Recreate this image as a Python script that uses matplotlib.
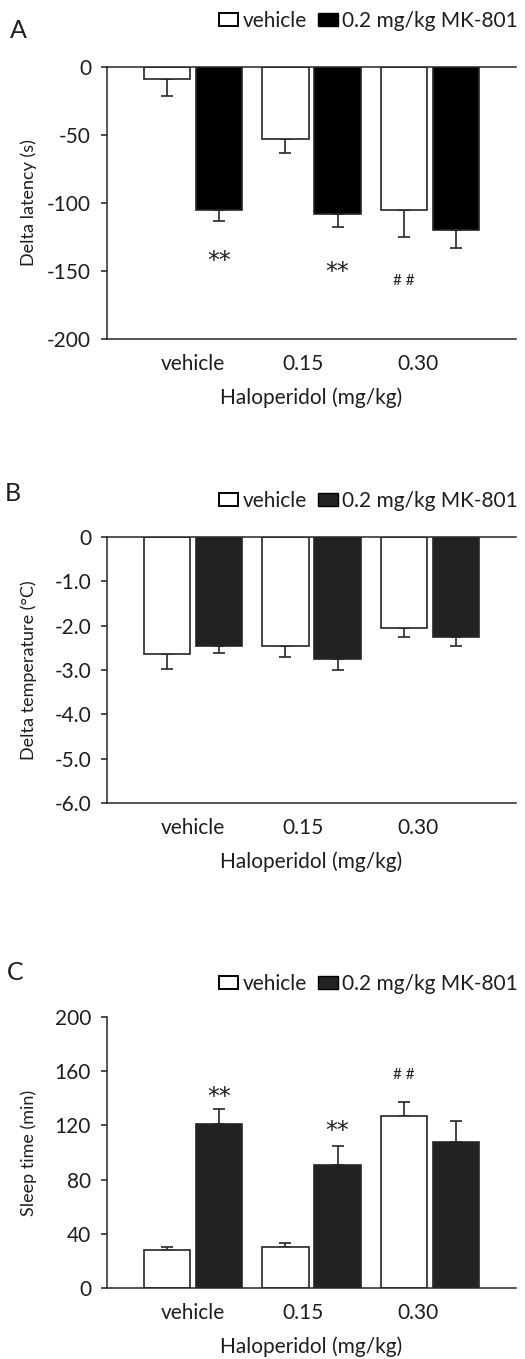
import matplotlib
matplotlib.use("Agg")
import matplotlib.pyplot as plt
from matplotlib.patches import Patch
import numpy as np

plt.rcParams['font.family'] = ['Lato', 'DejaVu Sans']

groups = ["vehicle", "0.15", "0.30"]
series_names = ["vehicle", "0.2 mg/kg MK-801"]

# Panel A: Delta latency (s)
a_vehicle = [-9, -53, -105]
a_mk801 = [-105, -108, -120]
a_vehicle_err = [12, 10, 20]
a_mk801_err = [8, 10, 13]

# Panel B: Delta temperature (°C)
b_vehicle = [-2.65, -2.45, -2.05]
b_mk801 = [-2.45, -2.75, -2.25]
b_vehicle_err = [0.32, 0.25, 0.20]
b_mk801_err = [0.17, 0.25, 0.20]

# Panel C: Sleep time (min)
c_vehicle = [28, 30, 127]
c_mk801 = [121, 91, 108]
c_vehicle_err = [2.5, 3.5, 10]
c_mk801_err = [11, 13.5, 15]

# significance marks: (group index, series index, y, text)
a_marks = [(0, 1, -143, "**"), (1, 1, -151, "**"), (2, 0, -157, "# #")]
c_marks = [(0, 1, 141, "**"), (1, 1, 116, "**"), (2, 0, 157, "# #")]

W, H = 525, 1359
DPI = 100
fig = plt.figure(figsize=(W / DPI, H / DPI), dpi=DPI)

TXT = "#1e1e1e"
LINE = "#262626"
FS = 15


def px_axes(left, top, right, bottom):
    return fig.add_axes([left / W, 1 - bottom / H, (right - left) / W, (bottom - top) / H])


def panel(ax, veh, mk, veh_err, mk_err, ylim, yticks, yticklabels, ylabel, black, negative, marks, letter, letter_xy, legend_y, top_spine):
    x = np.arange(len(groups))
    off = 0.22
    bw = 0.39
    ax.bar(x - off, veh, width=bw, color="white", edgecolor=LINE, linewidth=1.2, zorder=2)
    ax.bar(x + off, mk, width=bw, color=black, edgecolor=LINE, linewidth=1.2, zorder=2)
    z = np.zeros(len(groups))
    for xs, vals, errs in [(x - off, veh, veh_err), (x + off, mk, mk_err)]:
        yerr = [errs, z] if negative else [z, errs]
        ax.errorbar(xs, vals, yerr=yerr, fmt="none", ecolor=LINE, elinewidth=1.2, capsize=4, capthick=1.2, zorder=1)
    ax.set_xlim(-0.73, 2.73)
    ax.set_ylim(*ylim)
    ax.set_yticks(yticks)
    ax.set_yticklabels(yticklabels)
    ax.set_xticks([0, 0.93, 1.9])
    ax.set_xticklabels(groups)
    ax.tick_params(axis="x", length=0, pad=11, labelsize=FS, colors=TXT)
    ax.tick_params(axis="y", length=4.5, width=1.1, direction="out", pad=7, labelsize=FS, colors=TXT)
    for s in ["left", "bottom", "top"]:
        ax.spines[s].set_color(LINE)
        ax.spines[s].set_linewidth(1.1)
    ax.spines["right"].set_visible(False)
    ax.spines["top"].set_visible(top_spine)
    ax.set_xlabel("Haloperidol (mg/kg)", fontsize=FS, color=TXT, labelpad=9.5)
    ax.set_ylabel(ylabel, fontsize=13, color=TXT)
    ax.yaxis.set_label_coords(-0.171, 0.5)
    for gi, si, yv, t in marks:
        xv = gi + (off if si == 1 else -off)
        if t == "**":
            ax.text(xv, yv, t, ha="center", va="center", fontsize=17, color=TXT, family="DejaVu Sans")
        else:
            ax.text(xv, yv, t, ha="center", va="center", fontsize=11, color=TXT)
    fig.text(letter_xy[0] / W, 1 - letter_xy[1] / H, letter, fontsize=18, color=TXT, ha="left", va="center")
    handles = [Patch(facecolor="white", edgecolor="black", linewidth=1.4),
               Patch(facecolor=black, edgecolor="black", linewidth=1.0)]
    fig.legend(handles, series_names, loc="center right", bbox_to_anchor=(518 / W, 1 - legend_y / H),
               bbox_transform=fig.transFigure, ncol=2, frameon=False, fontsize=FS,
               handlelength=0.95, handleheight=0.6, handletextpad=0.2, columnspacing=0.55,
               borderaxespad=0, borderpad=0, labelcolor=TXT)


axA = px_axes(107, 67, 516, 339)
panel(axA, a_vehicle, a_mk801, a_vehicle_err, a_mk801_err, (-200, 0),
      [0, -50, -100, -150, -200], ["0", "-50", "-100", "-150", "-200"],
      "Delta latency (s)", "black", True, a_marks, "A", (10, 30), 21, True)

axB = px_axes(107, 537, 516, 803)
bt = [0, -1, -2, -3, -4, -5, -6]
panel(axB, b_vehicle, b_mk801, b_vehicle_err, b_mk801_err, (-6, 0),
      bt, ["0"] + ["%.1f" % v for v in bt[1:]],
      "Delta temperature (°C)", "#222222", True, [], "B", (5, 494), 501, True)

axC = px_axes(107, 1017, 516, 1288)
ct = [0, 40, 80, 120, 160, 200]
panel(axC, c_vehicle, c_mk801, c_vehicle_err, c_mk801_err, (0, 200),
      ct, [str(v) for v in ct],
      "Sleep time (min)", "#222222", False, c_marks, "C", (7, 972), 984, False)

fig.savefig("out.png", dpi=DPI)
